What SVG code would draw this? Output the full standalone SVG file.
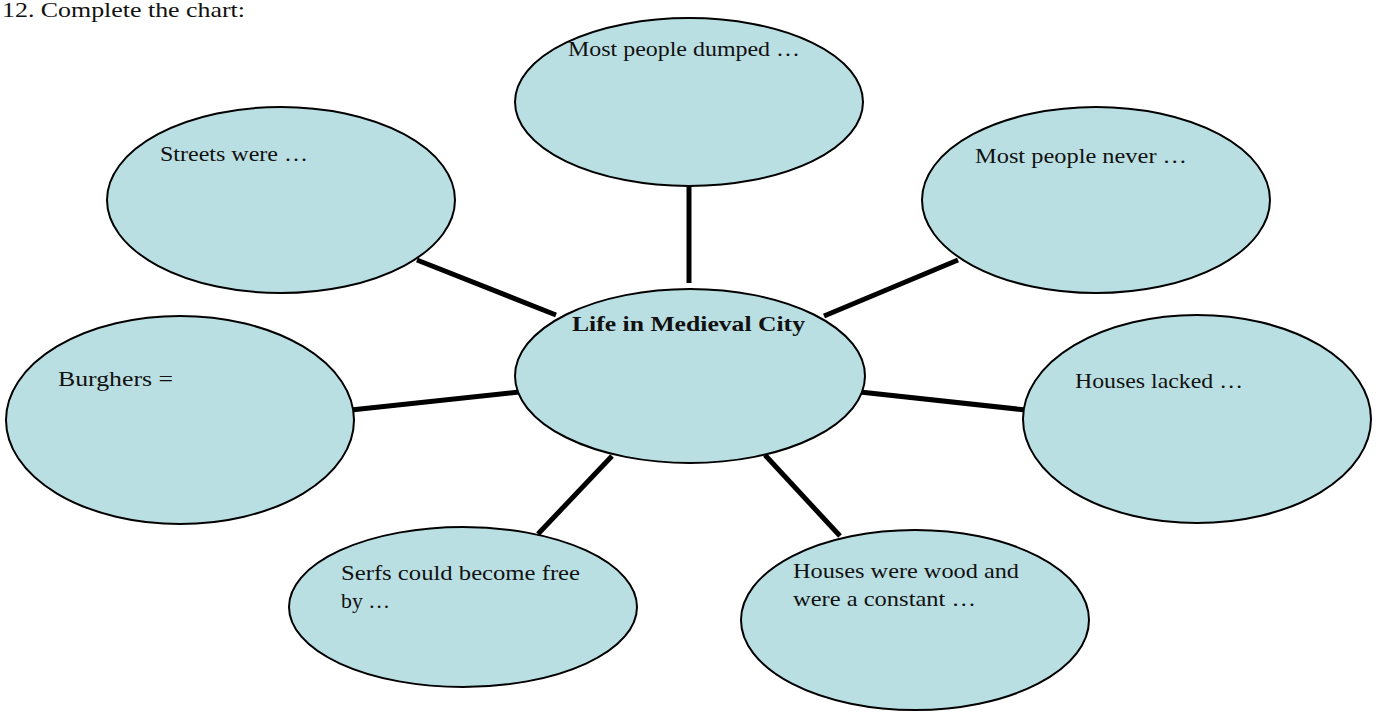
<svg xmlns="http://www.w3.org/2000/svg" width="1379" height="713" viewBox="0 0 1379 713">
<style>
.n{fill:#b9dfe3;stroke:#000;stroke-width:2}
.c line{stroke:#000;stroke-width:5}
text{font-family:"Liberation Serif",serif;font-size:22px;fill:#111}
</style>
<rect width="1379" height="713" fill="#fff"/>
<text x="2" y="17" style="font-size:21px" textLength="243" lengthAdjust="spacingAndGlyphs">12.  Complete the chart:</text>
<g class="c" id="connectors">
<line x1="689" y1="186" x2="689" y2="283"/>
<line x1="417" y1="260" x2="556" y2="315"/>
<line x1="958" y1="260" x2="824" y2="316"/>
<line x1="351" y1="410" x2="519" y2="392"/>
<line x1="860" y1="392" x2="1026" y2="410"/>
<line x1="612" y1="456" x2="538" y2="534"/>
<line x1="765" y1="455" x2="840" y2="536"/>
</g>
<g id="n-top"><ellipse class="n" cx="689" cy="102" rx="174" ry="84"/><text x="568" y="56" textLength="232" lengthAdjust="spacingAndGlyphs">Most people dumped …</text></g>
<g id="n-tl"><ellipse class="n" cx="281" cy="200" rx="174" ry="93"/><text x="160" y="161" textLength="148" lengthAdjust="spacingAndGlyphs">Streets were …</text></g>
<g id="n-tr"><ellipse class="n" cx="1096" cy="200" rx="174" ry="93"/><text x="975" y="163" textLength="212" lengthAdjust="spacingAndGlyphs">Most people never …</text></g>
<g id="n-center"><ellipse class="n" cx="690" cy="376" rx="175" ry="87"/><text x="572" y="331" font-weight="bold" textLength="233" lengthAdjust="spacingAndGlyphs">Life in Medieval City</text></g>
<g id="n-left"><ellipse class="n" cx="180" cy="420" rx="174" ry="104"/><text x="58" y="386" textLength="115" lengthAdjust="spacingAndGlyphs">Burghers =</text></g>
<g id="n-right"><ellipse class="n" cx="1197" cy="419" rx="174" ry="104"/><text x="1075" y="388" textLength="168" lengthAdjust="spacingAndGlyphs">Houses lacked …</text></g>
<g id="n-bl"><ellipse class="n" cx="463" cy="607" rx="174" ry="80"/><text x="341" y="580" textLength="239" lengthAdjust="spacingAndGlyphs">Serfs could become free</text><text x="341" y="608" textLength="49" lengthAdjust="spacingAndGlyphs">by …</text></g>
<g id="n-br"><ellipse class="n" cx="915" cy="620" rx="174" ry="90"/><text x="793" y="578" textLength="226" lengthAdjust="spacingAndGlyphs">Houses were wood and</text><text x="793" y="606" textLength="183" lengthAdjust="spacingAndGlyphs">were a constant …</text></g>
</svg>
